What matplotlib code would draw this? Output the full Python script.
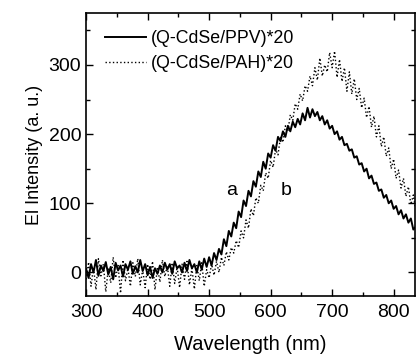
import numpy as np
import matplotlib
matplotlib.use("Agg")
import matplotlib.pyplot as plt
from matplotlib.ticker import MultipleLocator

# wavelength grid (nm), 4 nm steps
wl_start, wl_step = 300, 4
ppv = [5, -8, 12, 0, 18, -5, 10, 2, 15, -3,
       8, -10, 14, 3, 10, -6, 12, 4, 16, -2,
       9, 0, 18, 2, 12, -4, 8, -8, 6, -2,
       10, 0, 14, 4, 12, -2, 16, 6, 10, 0,
       14, 2, 18, 6, 12, 0, 16, 4, 20, 8,
       22, 10, 28, 18, 34, 26, 48, 38, 60, 52,
       72, 64, 88, 80, 104, 96, 118, 110, 132, 124,
       146, 138, 160, 150, 172, 166, 184, 176, 196, 190,
       204, 196, 212, 204, 218, 210, 222, 214, 230, 220,
       238, 224, 236, 226, 232, 220, 226, 214, 220, 208,
       212, 200, 204, 192, 196, 184, 186, 176, 178, 166,
       168, 156, 158, 146, 150, 136, 140, 128, 130, 118,
       120, 108, 112, 100, 104, 92, 96, 84, 90, 78,
       84, 72, 78, 62, 66]
pah = [-10, 15, -20, 8, -25, 20, -5, 12, -28, 5,
       -15, 22, -8, 10, -30, 18, -12, 6, -20, 14,
       -6, 20, -18, 4, -22, 12, -10, 16, -25, 8,
       -14, 18, -6, 10, -20, 14, -16, 8, -22, 12,
       -10, 16, -18, 6, -24, 10, -12, 14, -20, 4,
       -8, 12, -4, 16, 0, 22, 10, 30, 18, 36,
       28, 46, 36, 60, 50, 76, 64, 92, 82, 108,
       100, 126, 118, 144, 136, 162, 152, 178, 170, 196,
       188, 212, 204, 228, 220, 244, 236, 258, 248, 270,
       262, 284, 270, 296, 278, 310, 284, 300, 290, 318,
       296, 320, 282, 308, 276, 296, 262, 290, 258, 280,
       250, 266, 238, 252, 224, 240, 210, 226, 196, 212,
       182, 196, 168, 180, 150, 164, 136, 148, 122, 136,
       110, 124, 98, 112, 90]
wl = wl_start + wl_step * np.arange(len(ppv))

labels = ["(Q-CdSe/PPV)*20", "(Q-CdSe/PAH)*20"]
xticks = [300, 400, 500, 600, 700, 800]
yticks = [0, 100, 200, 300]

plt.rcParams['font.family'] = ['Liberation Sans', 'DejaVu Sans']
fig = plt.figure(figsize=(4.16, 3.54), dpi=100)
ax = fig.add_axes([0.207, 0.164, 0.791, 0.799])

ax.plot(wl, ppv, color='black', lw=1.4, ls='-', label=labels[0])
ax.plot(wl, pah, color='black', lw=1.0, ls=':', label=labels[1])

ax.set_xlim(300, 835)
ax.set_ylim(-34, 375)
ax.set_xticks(xticks)
ax.set_yticks(yticks)
ax.xaxis.set_minor_locator(MultipleLocator(50))
ax.yaxis.set_minor_locator(MultipleLocator(50))
ax.tick_params(which='both', direction='in', top=True, right=True, labelsize=14)
ax.tick_params(axis='x', which='major', pad=6)
ax.tick_params(which='major', length=5, width=1)
ax.tick_params(which='minor', length=3, width=1)
for s in ax.spines.values():
    s.set_linewidth(1.2)

ax.set_xlabel("Wavelength (nm)", fontsize=14.5, labelpad=10)
ax.set_ylabel("El Intensity (a. u.)", fontsize=13, labelpad=4)

ax.text(536, 119, "a", fontsize=14, ha='center', va='center')
ax.text(625, 119, "b", fontsize=14, ha='center', va='center')

ax.legend(loc='upper left', frameon=False, fontsize=12.8, handlelength=2.3,
          handletextpad=0.3, borderaxespad=0.3, labelspacing=0.45,
          bbox_to_anchor=(0.02, 0.985))

fig.savefig("out.png", dpi=100)
